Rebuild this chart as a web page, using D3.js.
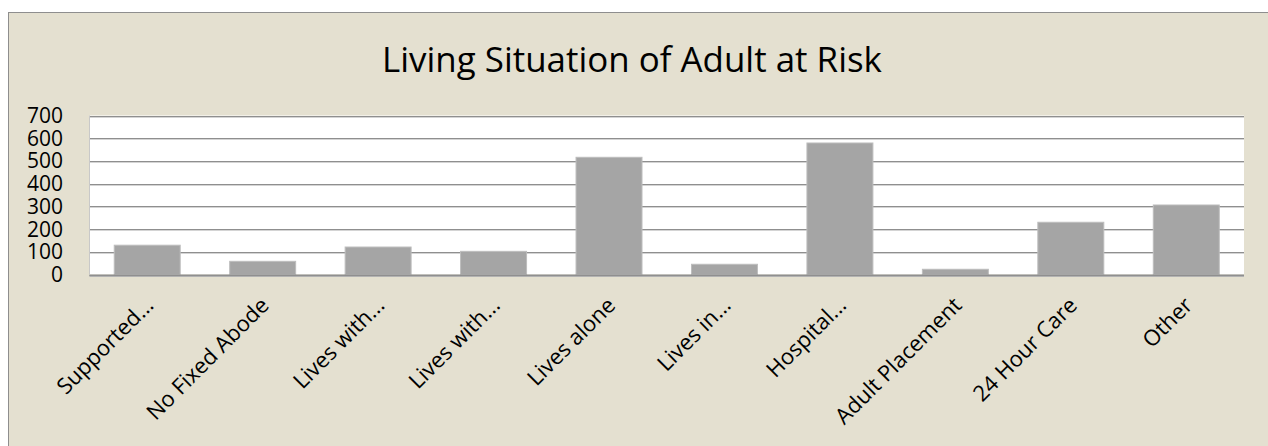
<!DOCTYPE html>
<meta charset="utf-8">
<style>
body { margin: 0; background: #fff; }
svg text { font-family: "Open Sans", sans-serif; fill: #000; }
</style>
<body>
<script src="https://d3js.org/d3.v7.min.js"></script>
<script>
// chart data
var categories = ["Supported...", "No Fixed Abode", "Lives with...", "Lives with...", "Lives alone",
                  "Lives in...", "Hospital...", "Adult Placement", "24 Hour Care", "Other"];
var values = [129, 58, 121, 102, 516, 45, 579, 23, 230, 306];
var yTicks = [0, 100, 200, 300, 400, 500, 600, 700];
var title = "Living Situation of Adult at Risk";

var W = 1268, H = 446;
var plot = {left: 89.5, top: 115.5, right: 1244, bottom: 274.5};

var svg = d3.select("body").append("svg")
    .attr("width", W)
    .attr("height", H);

// chart area background + border
svg.append("rect")
    .attr("x", 8.5).attr("y", 12.5)
    .attr("width", W).attr("height", H)
    .attr("fill", "#e4e0d0")
    .attr("stroke", "#8e8e8e")
    .attr("stroke-width", 1);

// scales
var x = d3.scaleBand()
    .domain(d3.range(categories.length))
    .range([plot.left, plot.right])
    .paddingInner(0.75 / 1.75)
    .paddingOuter(0.375 / 1.75);
var y = d3.scaleLinear().domain([0, 700]).range([plot.bottom, plot.top]);

// plot area
svg.append("rect")
    .attr("x", plot.left).attr("y", plot.top)
    .attr("width", plot.right - plot.left).attr("height", plot.bottom - plot.top)
    .attr("fill", "#fff");

// gridlines (dark line with a light one under it)
var grid = svg.append("g");
grid.selectAll("line.lo").data(yTicks).enter().append("line")
    .attr("x1", plot.left).attr("x2", plot.right)
    .attr("y1", function(d) { return Math.round(y(d)) + 1.5; })
    .attr("y2", function(d) { return Math.round(y(d)) + 1.5; })
    .attr("stroke", "#d4d4d4");
grid.selectAll("line.hi").data(yTicks).enter().append("line")
    .attr("x1", plot.left).attr("x2", plot.right)
    .attr("y1", function(d) { return Math.round(y(d)) + 0.5; })
    .attr("y2", function(d) { return Math.round(y(d)) + 0.5; })
    .attr("stroke", "#8f8f8f");

// left axis line
svg.append("line")
    .attr("x1", plot.left).attr("x2", plot.left)
    .attr("y1", plot.top).attr("y2", plot.bottom)
    .attr("stroke", "#c8c8c8");

// bars
svg.selectAll("rect.bar").data(values).enter().append("rect")
    .attr("class", "bar")
    .attr("x", function(d, i) { return x(i); })
    .attr("y", function(d) { return y(d); })
    .attr("width", x.bandwidth())
    .attr("height", function(d) { return y(0) - y(d); })
    .attr("fill", "#a5a5a5")
    .attr("stroke", "#bdbdbd")
    .attr("stroke-width", 1);

// bottom axis line
svg.append("line")
    .attr("x1", plot.left).attr("x2", plot.right)
    .attr("y1", Math.round(y(0)) + 0.5).attr("y2", Math.round(y(0)) + 0.5)
    .attr("stroke", "#8f8f8f").attr("stroke-width", 2);

// y tick labels
svg.selectAll("text.ytick").data(yTicks).enter().append("text")
    .attr("x", 63)
    .attr("y", function(d) { return y(d); })
    .attr("dy", "0.36em")
    .attr("text-anchor", "end")
    .style("font-size", "21px")
    .text(function(d) { return d; });

// x labels, rotated
svg.selectAll("text.xlab").data(categories).enter().append("text")
    .attr("transform", function(d, i) {
        return "translate(" + (x(i) + x.bandwidth() / 2 - 4) + "," + 295 + ") rotate(-45)";
    })
    .attr("dy", "0.75em")
    .attr("text-anchor", "end")
    .style("font-size", "22px")
    .text(function(d) { return d; });

// title, sized to match the original width
var t = svg.append("text")
    .attr("x", 632)
    .attr("y", 72)
    .attr("text-anchor", "middle")
    .style("font-size", "36px")
    .text(title);
var tw = t.node().getComputedTextLength();
t.style("font-size", (36 * 500 / tw) + "px");
</script>
</body>
